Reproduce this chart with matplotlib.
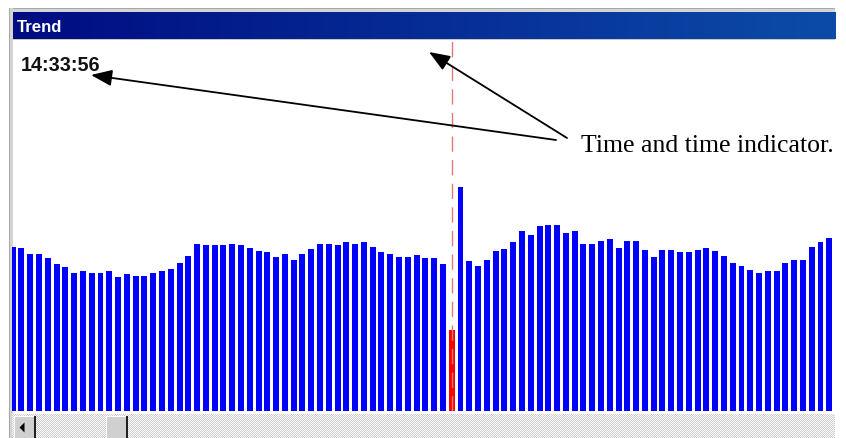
import numpy as np
import matplotlib
matplotlib.use("Agg")
import matplotlib.pyplot as plt
from matplotlib.patches import Rectangle, Polygon

# Trend samples (percent of the plot height), oldest on the left
values = [
    44.2, 43.8, 42.3, 42.3, 41.1, 39.5, 38.7, 37.1, 37.6, 37.1,
    37.1, 37.6, 36.0, 36.7, 36.3, 36.3, 37.1, 37.6, 38.3, 39.9,
    41.7, 45.0, 44.6, 44.6, 44.6, 45.0, 44.5, 43.8, 43.0, 42.7,
    41.5, 42.3, 40.7, 42.3, 43.5, 45.0, 45.0, 44.6, 45.4, 45.0,
    45.4, 44.2, 42.7, 42.3, 41.5, 41.5, 41.9, 41.1, 41.1, 39.5,
    21.7, 60.1, 40.2, 39.1, 40.7, 43.1, 43.5, 45.5, 48.5, 47.4,
    49.7, 50.1, 50.1, 47.8, 48.5, 45.0, 45.0, 45.8, 46.2, 43.8,
    45.8, 45.8, 43.4, 41.5, 43.4, 43.4, 42.7, 42.7, 43.4, 43.8,
    43.1, 41.8, 39.9, 39.1, 37.8, 37.1, 37.6, 37.6, 39.9, 40.7,
    40.7, 44.2, 45.3, 46.6,
]
cursor_index = 50          # sample under the time indicator
cursor_time = "14:33:56"
window_title = "Trend"
note_text = "Time and time indicator."

W, H = 846, 439
fig = plt.figure(figsize=(W / 100, H / 100), dpi=100)
fig.patch.set_facecolor("white")


def px_axes(x0, y0, x1, y1, **kw):
    """Axes placed by pixel box (top-left origin)."""
    return fig.add_axes([x0 / W, 1 - y1 / H, (x1 - x0) / W, (y1 - y0) / H], **kw)


# --- window chrome -------------------------------------------------------
bg = px_axes(0, 0, W, H, zorder=0)
bg.set_xlim(0, W)
bg.set_ylim(H, 0)
bg.axis("off")

# outer frame
bg.add_patch(Rectangle((9, 9), 826, 4, facecolor="#d4d4d4", edgecolor="none"))
bg.add_patch(Rectangle((9, 9), 826, 1.2, facecolor="#a8a8a8", edgecolor="none"))
bg.add_patch(Rectangle((9, 9), 3.5, H - 9, facecolor="#d4d4d4", edgecolor="none"))
bg.add_patch(Rectangle((9, 9), 1.2, H - 9, facecolor="#a8a8a8", edgecolor="none"))

# caption bar with gradient
c0 = np.array([0x00, 0x0c, 0x82]) / 255
c1 = np.array([0x0c, 0x4c, 0xa8]) / 255
t = np.linspace(0, 1, 256)[None, :, None]
grad = c0 + (c1 - c0) * t
bg.imshow(grad, extent=(12.5, 835, 39.5, 13), aspect="auto", interpolation="bilinear", zorder=1)
bg.add_patch(Rectangle((12.5, 39.5), 822.5, 1.5, facecolor="#c8c8c8", edgecolor="none", zorder=2))
bg.text(16.5, 32.3, window_title, color="white", fontsize=12.1, fontweight="bold",
        family="Liberation Sans", va="baseline", ha="left", zorder=3)

# horizontal scroll bar
sb_h, sb_w = 24, 823
yy, xx = np.mgrid[0:sb_h, 0:sb_w]
checker = np.where(((xx + yy) % 2)[..., None] == 0, 1.0, 0.80) * np.ones(3)
bg.imshow(checker, extent=(12, 835, 439, 415), aspect="auto", interpolation="nearest", zorder=1)


def button(x0, x1, y0=417, y1=439):
    bg.add_patch(Rectangle((x0, y0), x1 - x0, y1 - y0, facecolor="#d0d0d0", edgecolor="none", zorder=2))
    bg.add_patch(Rectangle((x0, y0), 1.2, y1 - y0, facecolor="white", edgecolor="none", zorder=3))
    bg.add_patch(Rectangle((x0, y0), x1 - x0, 1.2, facecolor="white", edgecolor="none", zorder=3))
    bg.add_patch(Rectangle((x1 - 1.6, y0), 1.6, y1 - y0, facecolor="#202020", edgecolor="none", zorder=3))


button(14, 35.5)
button(106, 127.5)
bg.add_patch(Polygon([(19.5, 428.5), (24.5, 423.5), (24.5, 433.5)], closed=True,
                     facecolor="black", edgecolor="none", zorder=4))

# --- trend bars ----------------------------------------------------------
ax = px_axes(12, 40, 835, 412, zorder=2)
ax.set_facecolor("none")
idx = np.arange(len(values))
colors = ["#ff0000" if i == cursor_index else "#0000ff" for i in idx]
ax.bar(idx, values, width=0.68, color=colors, edgecolor="none", clip_on=True)
ax.axvline(cursor_index, color="#e07a7a", lw=1.0, dashes=(11, 6), zorder=3)
ax.set_xlim(-0.08, 93.65)
ax.set_ylim(0, 100)
ax.axis("off")

# --- overlay text and arrows --------------------------------------------
ov = px_axes(0, 0, W, H, zorder=5)
ov.set_xlim(0, W)
ov.set_ylim(H, 0)
ov.axis("off")
ov.patch.set_alpha(0)

ov.text(20.5, 70.7, cursor_time, color="#111111", fontsize=14.3, fontweight="bold",
        family="Liberation Sans", va="baseline", ha="left")
ov.text(581, 152, note_text, color="black", fontsize=18.5,
        family="Liberation Serif", va="baseline", ha="left")

arrow_kw = dict(arrowstyle="-|>,head_length=0.85,head_width=0.33",
                color="black", lw=1.3, mutation_scale=15, shrinkA=0, shrinkB=0)
ov.annotate("", xy=(91, 76), xytext=(556, 141), arrowprops=arrow_kw)
ov.annotate("", xy=(429, 53), xytext=(567, 139), arrowprops=arrow_kw)

fig.savefig("out.png", dpi=100, facecolor="white")
